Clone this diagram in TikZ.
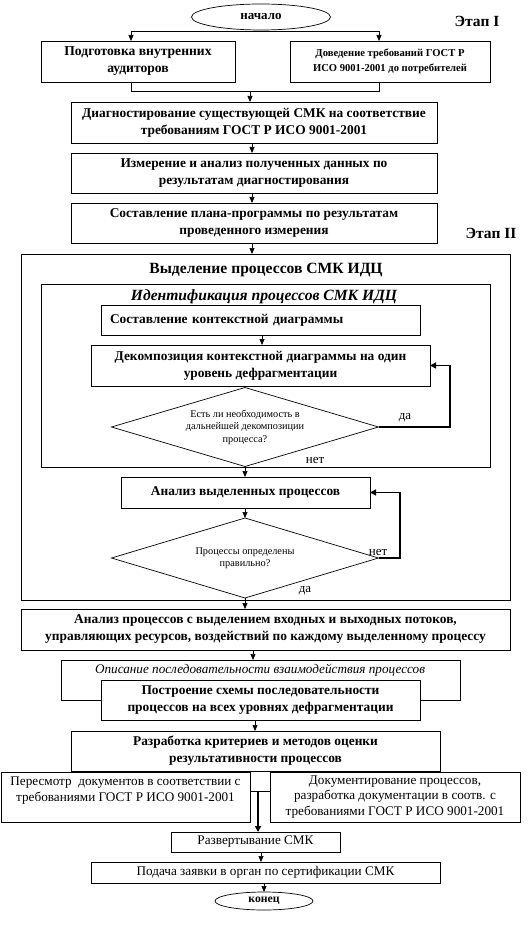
\documentclass[tikz,border=0pt]{standalone}
\usepackage{fontspec}
\setmainfont{Liberation Serif}
\usetikzlibrary{shapes.geometric,arrows.meta}
\begin{document}
\begin{tikzpicture}[x=1pt,y=-1pt,
  every node/.style={inner sep=0pt, outer sep=0pt},
  box/.style={draw, line width=0.7pt, fill=white, align=center, font=\bfseries\fontsize{13.4}{17}\selectfont},
  rbox/.style={draw, line width=0.7pt, fill=white, align=center, font=\fontsize{13.2}{15.5}\selectfont},
  frame/.style={draw, line width=0.7pt},
  dia/.style={draw, line width=0.7pt, diamond, aspect=3.38, align=center, font=\fontsize{10.3}{12.5}\selectfont},
  oval/.style={draw, line width=0.7pt, ellipse, font=\bfseries\fontsize{13}{15}\selectfont},
  lab/.style={font=\fontsize{13}{15}\selectfont},
  stage/.style={font=\bfseries\fontsize{15.5}{17}\selectfont},
  ln/.style={line width=0.7pt},
  arr/.style={line width=0.7pt, -{Triangle[width=5pt,length=6pt]}},
  tarr/.style={line width=1.8pt, -{Triangle[width=6pt,length=6pt]}},
  tln/.style={line width=1.8pt}
]
\useasboundingbox (0,0) rectangle (532,925);

\node[oval, minimum width=139, minimum height=26] (start) at (261,17) {начало};
\node[stage] (st1) at (477,21) {Этап I};

\node[box, minimum width=194, minimum height=41, font=\bfseries\fontsize{13.6}{17}\selectfont] (A) at (138,61.5) {Подготовка внутренних\\аудиторов};
\node[box, minimum width=200, minimum height=41, font=\bfseries\fontsize{10.6}{15}\selectfont] (B) at (390,61.5) {Доведение требований ГОСТ Р\\ИСО 9001-2001 до потребителей};

\coordinate (s1) at (131,31);
\coordinate (s2) at (379,31);
\draw[ln] (s1) -- (s2);
\draw[arr] (s1) -- (s1 |- A.north);
\draw[arr] (s2) -- (s2 |- B.north);

\node[box, minimum width=366, minimum height=41] (C) at (254,122.5) {Диагностирование существующей СМК на соответствие\\требованиям ГОСТ Р ИСО 9001-2001};
\coordinate (j1) at (250,91);
\draw[ln] (s1 |- A.south) -- (s1 |- j1) -- (s2 |- j1) -- (s2 |- B.south);
\draw[arr] (j1) -- (j1 |- C.north);

\node[box, minimum width=366, minimum height=40] (D) at (254,173) {Измерение и анализ полученных данных по\\результатам диагностирования};
\node[box, minimum width=366, minimum height=40] (E) at (254,223) {Составление плана-программы по результатам\\проведенного измерения};
\node[stage] (st2) at (491,233) {Этап II};

\coordinate (x1) at (252,0);
\draw[arr] (x1 |- C.south) -- (x1 |- D.north);
\draw[arr] (x1 |- D.south) -- (x1 |- E.north);

\node[frame, minimum width=489, minimum height=346] (big) at (265.5,427) {};
\draw[arr] (x1 |- E.south) -- (x1 |- big.north);
\node[font=\bfseries\fontsize{15.6}{18}\selectfont] (bigt) at (266,270) {Выделение процессов СМК ИДЦ};

\node[frame, minimum width=449, minimum height=183] (inner) at (265.5,375.5) {};
\node[box, minimum width=319, minimum height=30, text width=301, inner xsep=9pt, align=left] (F) at (260.5,320) {Составление контекстной диаграммы};
\node[font=\bfseries\itshape\fontsize{15.6}{18}\selectfont] (innert) at (264,297) {Идентификация процессов СМК ИДЦ};

\node[box, minimum width=339, minimum height=41] (G) at (260.5,365.5) {Декомпозиция контекстной диаграммы на один\\уровень дефрагментации};
\coordinate (x2) at (262,0);
\draw[arr] (x2 |- F.south) -- (x2 |- G.north);

\node[dia, minimum width=267, minimum height=79] (d1) at (245,427) {Есть ли необходимость в\\дальнейшей декомпозиции\\процесса?};
\node[lab] (da1) at (405,418) {да};
\node[lab] (net1) at (315,460) {нет};
\coordinate (r1) at (450,0);
\draw[tarr] (d1.east) -- (r1 |- d1.east) -- (r1 |- G.east) -- (G.east);

\node[box, minimum width=249, minimum height=31] (H) at (245.5,492.5) {Анализ выделенных процессов};
\draw[arr] (d1.south) -- (d1.south |- H.north);

\node[dia, minimum width=267, minimum height=80] (d2) at (245,558) {Процессы определены\\правильно?};
\draw[arr] (d2.north |- H.south) -- (d2.north);
\node[lab] (net2) at (378,552) {нет};
\node[lab] (da2) at (305,591) {да};
\coordinate (r2) at (400,0);
\draw[tarr] (d2.east) -- (r2 |- d2.east) -- (r2 |- H.east) -- (H.east);

\node[box, minimum width=489, minimum height=41] (I) at (265.5,629.5) {Анализ процессов с выделением входных и выходных потоков,\\управляющих ресурсов, воздействий по каждому выделенному процессу};
\draw[arr] (d2.south) -- (d2.south |- I.north);

\node[frame, minimum width=399, minimum height=40] (J) at (260.5,680) {};
\node[font=\itshape\fontsize{13.2}{15}\selectfont] (Jt) at (260,670) {Описание последовательности взаимодействия процессов};
\coordinate (x3) at (253,0);
\draw[arr] (x3 |- I.south) -- (x3 |- J.north);

\node[box, minimum width=319, minimum height=40] (K) at (260.5,700) {Построение схемы последовательности\\процессов на всех уровнях дефрагментации};

\node[box, minimum width=369, minimum height=40] (L) at (255.5,751) {Разработка критериев и методов оценки\\результативности процессов};
\coordinate (x4) at (255,0);
\draw[arr] (x4 |- K.south) -- (x4 |- L.north);

\node[rbox, minimum width=249, minimum height=50] (M) at (125.5,797) {Пересмотр\ \ документов в соответствии с\\требованиями ГОСТ Р ИСО 9001-2001\\\mbox{}};
\node[rbox, minimum width=250, minimum height=50] (N) at (395,797) {Документирование процессов,\\разработка документации в соотв. с\\требованиями ГОСТ Р ИСО 9001-2001};

\node[rbox, minimum width=169, minimum height=20] (O) at (255.5,842) {Развертывание СМК};
\coordinate (mn) at (258,791);
\draw[ln] (M.east |- mn) -- (N.west |- mn);
\draw[tarr] (mn) -- (mn |- O.north);

\node[rbox, minimum width=349, minimum height=21] (P) at (265.5,872.5) {Подача заявки в орган по сертификации СМК};
\coordinate (x5) at (261,0);
\draw[arr] (x5 |- O.south) -- (x5 |- P.north);

\node[oval, minimum width=98, minimum height=18, font=\bfseries\fontsize{11.7}{13}\selectfont] (end) at (264,901) {конец};
\draw[arr] (end.north |- P.south) -- (end.north);
\end{tikzpicture}
\end{document}
